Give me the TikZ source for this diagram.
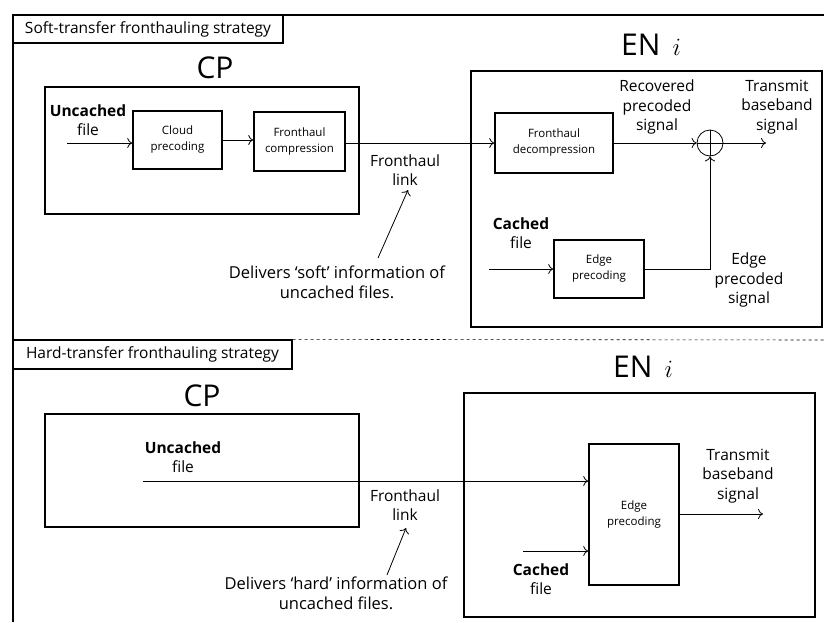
\documentclass[tikz,border=0pt]{standalone}
\usepackage{fontspec}
\setmainfont{Open Sans}
\usetikzlibrary{arrows,arrows.meta}
\newcommand{\boxlw}{1.6pt}
\newcommand{\lblsize}{\fontsize{15.5}{19.5}\selectfont}
\newcommand{\notesize}{\fontsize{16.5}{20}\selectfont}
\newcommand{\headsize}{\fontsize{15.5}{19}\selectfont}
\newcommand{\blksize}{\fontsize{11.5}{16}\selectfont}
\newcommand{\titlesize}{\fontsize{30}{34}\selectfont}

\begin{document}
\begin{tikzpicture}[x=1pt,y=-1pt,>={To[length=5pt,width=10pt]},line width=.8pt]
\useasboundingbox (0,0) rectangle (824,622);
\tikzset{blk/.style={draw, line width=\boxlw, inner sep=0pt, align=center, font=\blksize},
         txt/.style={align=center, font=\lblsize, inner sep=0pt}}
          % frame
      \draw[line width=1.3pt] (824,15) -- (13,15) -- (13,622);
      \node (soft) at (148,29) [draw, line width=1.3pt, minimum width=270, minimum height=28, font=\headsize] {Soft-transfer fronthauling strategy};
      \node (hard) at (152.5,354.5) [draw, line width=1.3pt, minimum width=279, minimum height=29, font=\headsize] {Hard-transfer fronthauling strategy};
      \draw[dashed, line width=.6pt] (hard.north east) -- (824,340);

          % soft transfer
      \node (cp1) at (215,68) [font=\titlesize] {CP};
      \node (cpbox1) at (202,150.5) [draw, line width=\boxlw, minimum width=314, minimum height=127] {};
      \node (unc1) at (88,120) [txt] {\textbf{Uncached}\\file};
      \coordinate (in1) at (67,143);
      \node (cloud) at (177.5,140) [blk, minimum width=89, minimum height=58] {Cloud\\precoding};
      \node (fcomp) at (299.5,141.5) [blk, minimum width=91, minimum height=59] {Fronthaul\\compression};
      \node (en1) at (651,45) [font=\titlesize] {EN\hspace{12pt}$i$};
      \node (enbox1) at (646.5,199) [draw, line width=\boxlw, minimum width=351, minimum height=256] {};
      \node (fdec) at (554,143) [blk, minimum width=118, minimum height=60] {Fronthaul\\decompression};
      \node (sum) at (710,143) [draw, circle, minimum size=26, inner sep=0pt] {};
      \draw (sum.north) -- (sum.south) (sum.west) -- (sum.east);
      \coordinate (out1) at (766,143);
      \node (rec) at (657,107) [txt] {Recovered\\precoded\\signal};
      \node (tx1) at (777,107) [txt] {Transmit\\baseband\\signal};
      \node (edge1) at (599,269) [blk, minimum width=90, minimum height=58] {Edge\\precoding};
      \coordinate (cin1) at (489,269);
      \node (cached1) at (521,233) [txt] {\textbf{Cached}\\file};
      \node (eps) at (749,280) [txt] {Edge\\precoded\\signal};
      \node (link1) at (405,170) [txt] {Fronthaul\\link};
      \node (dl1) at (337,282) [txt, font=\notesize] {Delivers `soft' information of\\uncached files.};
      \coordinate (dl1tip) at (378,258);
      \coordinate (link1tip) at (408,190);
      \draw[->] (in1) to (in1 -| cloud.west);
      \draw[->] (cloud) to (cloud -| fcomp.west);
      \draw[->] (fcomp.east |- fdec) to (fdec.west);
      \draw[->] (fdec) to (sum.west);
      \draw[->] (sum) to (out1);
      \draw[->] (cin1) to (edge1.west);
      \draw[->] (edge1.east) -| (sum.south);
      \draw[->] (dl1tip) to (link1tip);

          % hard transfer
      \node (cp2) at (202,396) [font=\titlesize] {CP};
      \node (cpbox2) at (202,470.5) [draw, line width=\boxlw, minimum width=314, minimum height=113] {};
      \node (unc2) at (183,457) [txt] {\textbf{Uncached}\\file};
      \coordinate (in2) at (143,481);
      \node (en2) at (643,367) [font=\titlesize] {EN\hspace{12pt}$i$};
      \node (enbox2) at (639.5,505) [draw, line width=\boxlw, minimum width=351, minimum height=224] {};
      \node (edge2) at (634,514.5) [blk, minimum width=90, minimum height=141] {Edge\\precoding};
      \coordinate (out2) at (763,514);
      \node (tx2) at (738,476) [txt] {Transmit\\baseband\\signal};
      \coordinate (cin2) at (523,551);
      \node (cached2) at (541,579) [txt] {\textbf{Cached}\\file};
      \node (link2) at (405,505) [txt] {Fronthaul\\link};
      \node (dl2) at (336,593) [txt, font=\notesize] {Delivers `hard' information of\\uncached files.};
      \coordinate (dl2tip) at (387,575);
      \coordinate (link2tip) at (406,528);
      \draw[->] (in2) to (in2 -| edge2.west);
      \draw[->] (cin2) to (cin2 -| edge2.west);
      \draw[->] (edge2.east |- out2) to (out2);
      \draw[->] (dl2tip) to (link2tip);
\end{tikzpicture}
\end{document}
